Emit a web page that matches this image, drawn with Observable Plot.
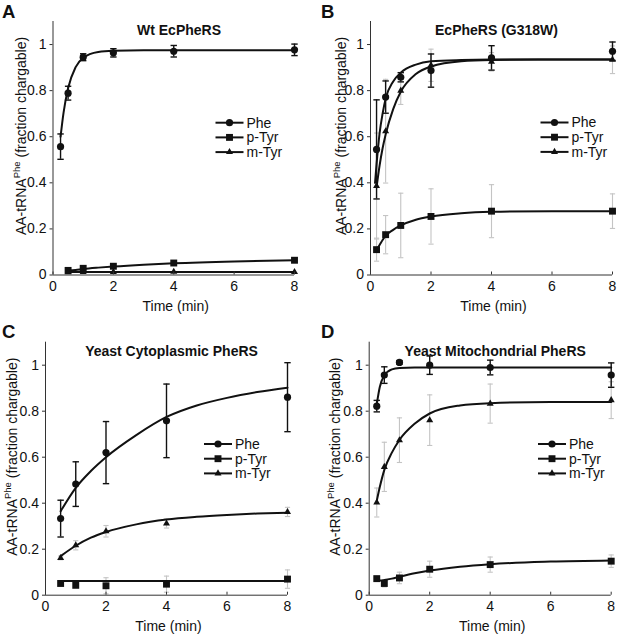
<!DOCTYPE html>
<html><head><meta charset="utf-8">
<script src="https://cdn.jsdelivr.net/npm/d3@7"></script>
<script src="https://cdn.jsdelivr.net/npm/@observablehq/plot@0.6"></script>
<style>
body{margin:0;background:#fff;}
#wrap{position:relative;width:617px;height:638px;font-family:"Liberation Sans",Arial,Helvetica,sans-serif;}
#wrap svg{position:absolute;overflow:visible;}
</style></head><body><div id="wrap"></div>
<script>
// ---------- data ----------
const seriesNames = ["Phe", "p-Tyr", "m-Tyr"];
const panelLetters = ["A", "B", "C", "D"];
const panelTitles = ["Wt EcPheRS", "EcPheRS (G318W)", "Yeast Cytoplasmic PheRS", "Yeast Mitochondrial PheRS"];
const xTicks = [0, 2, 4, 6, 8];
const yTicks = [0, 0.2, 0.4, 0.6, 0.8, 1];
const xLabel = "Time (min)";

// Panel A  (Wt EcPheRS)
const aTime = [0.25, 0.5, 1, 2, 4, 8];
const aPhe = [0.557, 0.789, 0.945, 0.964, 0.971, 0.977];
const aPheErr = [0.055, 0.03, 0.015, 0.018, 0.025, 0.025];
const aPTyr = [null, 0.020, 0.029, 0.038, 0.052, 0.064];
const aPTyrErr = [null, null, null, null, null, null];
const aMTyr = [null, 0.012, 0.013, 0.013, 0.014, 0.013];
const aMTyrErr = [null, null, null, null, null, null];
const aFitTime = [0.25, 0.35, 0.5, 0.75, 1, 1.5, 2, 3, 4, 6, 8];
const aPheFit = [0.60, 0.705, 0.81, 0.902, 0.943, 0.968, 0.973, 0.975, 0.975, 0.975, 0.975];
const aPTyrFit = [null, null, 0.019, 0.022, 0.026, 0.032, 0.037, 0.045, 0.051, 0.059, 0.064];
const aMTyrFit = [null, null, 0.013, 0.013, 0.013, 0.013, 0.013, 0.013, 0.013, 0.013, 0.013];

// Panel B  (EcPheRS G318W)
const bTime = [0.2, 0.5, 1, 2, 4, 8];
const bPhe = [0.545, 0.772, 0.858, 0.887, 0.942, 0.971];
const bPheErr = [0.215, 0.07, 0.02, 0.072, 0.053, 0.04];
const bPTyr = [0.110, 0.175, 0.215, 0.254, 0.277, 0.277];
const bPTyrErr = [0.05, 0.083, 0.14, 0.12, 0.115, 0.075];
const bMTyr = [0.386, 0.624, 0.80, 0.91, 0.925, 0.934];
const bMTyrErr = [0.23, 0.225, 0.06, 0.07, 0.04, 0.06];
const bFitTime = [0.15, 0.2, 0.3, 0.4, 0.5, 0.75, 1, 1.5, 2, 3, 4, 6, 8];
const bPheFit = [0.40, 0.48, 0.615, 0.70, 0.765, 0.84, 0.878, 0.913, 0.927, 0.933, 0.935, 0.935, 0.935];
const bPTyrFit = [null, 0.11, 0.13, 0.152, 0.17, 0.196, 0.215, 0.24, 0.254, 0.268, 0.274, 0.277, 0.277];
const bMTyrFit = [null, 0.38, 0.475, 0.55, 0.61, 0.72, 0.795, 0.872, 0.905, 0.928, 0.933, 0.935, 0.935];

// Panel C  (Yeast cytoplasmic PheRS)
const cTime = [0.5, 1, 2, 4, 8];
const cPhe = [0.333, 0.483, 0.620, 0.758, 0.861];
const cPheErr = [0.08, 0.097, 0.135, 0.16, 0.15];
const cPTyr = [0.051, 0.043, 0.041, 0.048, 0.070];
const cPTyrErr = [0.008, 0.008, 0.035, 0.035, 0.04];
const cMTyr = [0.162, 0.217, 0.278, 0.312, 0.362];
const cMTyrErr = [0.008, 0.02, 0.025, 0.02, 0.02];
const cFitTime = [0.5, 1, 1.5, 2, 3, 4, 5, 6, 7, 8];
const cPheFit = [0.365, 0.467, 0.54, 0.60, 0.696, 0.775, 0.825, 0.858, 0.883, 0.902];
const cPTyrFit = [0.062, 0.062, 0.062, 0.062, 0.062, 0.062, 0.062, 0.062, 0.062, 0.062];
const cMTyrFit = [0.17, 0.215, 0.25, 0.275, 0.308, 0.329, 0.341, 0.349, 0.355, 0.359];

// Panel D  (Yeast mitochondrial PheRS)
const dTime = [0.25, 0.5, 1, 2, 4, 8];
const dPhe = [0.822, 0.957, 1.012, 1.0, 0.99, 0.957];
const dPheErr = [0.025, 0.036, 0.008, 0.04, 0.032, 0.053];
const dPTyr = [0.072, 0.051, 0.075, 0.113, 0.133, 0.148];
const dPTyrErr = [0.01, 0.015, 0.025, 0.035, 0.033, 0.027];
const dMTyr = [0.403, 0.558, 0.674, 0.761, 0.833, 0.848];
const dMTyrErr = [0.063, 0.107, 0.097, 0.11, 0.085, 0.08];
const dFitTime = [0.25, 0.35, 0.5, 0.75, 1, 1.5, 2, 3, 4, 6, 8];
const dPheFit = [0.83, 0.905, 0.955, 0.982, 0.988, 0.99, 0.99, 0.99, 0.99, 0.99, 0.99];
const dPTyrFit = [0.068, 0.064, 0.066, 0.072, 0.08, 0.095, 0.107, 0.124, 0.135, 0.146, 0.151];
const dMTyrFit = [0.41, 0.47, 0.545, 0.62, 0.675, 0.745, 0.79, 0.825, 0.835, 0.84, 0.84];

// ---------- layout / style (not data) ----------
const layouts = [
  {left: 0,   top: 0,   width: 308, height: 318, mL: 52.5, mR: 14,  mT: 21,   mB: 43.5, legX: 163,   legY: 101.7, ylx: -26.5, lx: 2,  ly: 18, greyOthers: false},
  {left: 308, top: 0,   width: 309, height: 318, mL: 62,   mR: 5,   mT: 21,   mB: 43.5, legX: 170.5, legY: 101.5, ylx: -24.5, lx: 13, ly: 18, greyOthers: true},
  {left: 0,   top: 318, width: 308, height: 320, mL: 45,   mR: 21,  mT: 23.7, mB: 43.3, legX: 159,   legY: 102.3, ylx: -28,   lx: 2,  ly: 20, greyOthers: true},
  {left: 308, top: 318, width: 309, height: 320, mL: 60.7, mR: 6.3, mT: 23.7, mB: 43.3, legX: 169.3, legY: 102.3, ylx: -28.7, lx: 13, ly: 20, greyOthers: true}
];
const INK = "#111";
const GREY = "#c4c4c4";
const FONT = "'Liberation Sans', Arial, sans-serif";
const symbols = ["circle", "square", "triangle"];
const symR = [3.6, 3.9, 2.6];
const capSymbol = {draw(ctx, size) { const r = Math.sqrt(size / Math.PI); ctx.moveTo(-r, 0); ctx.lineTo(r, 0); }};

const panelsData = [
  {time: aTime, vals: [aPhe, aPTyr, aMTyr], errs: [aPheErr, aPTyrErr, aMTyrErr], fitTime: aFitTime, fits: [aPheFit, aPTyrFit, aMTyrFit]},
  {time: bTime, vals: [bPhe, bPTyr, bMTyr], errs: [bPheErr, bPTyrErr, bMTyrErr], fitTime: bFitTime, fits: [bPheFit, bPTyrFit, bMTyrFit]},
  {time: cTime, vals: [cPhe, cPTyr, cMTyr], errs: [cPheErr, cPTyrErr, cMTyrErr], fitTime: cFitTime, fits: [cPheFit, cPTyrFit, cMTyrFit]},
  {time: dTime, vals: [dPhe, dPTyr, dMTyr], errs: [dPheErr, dPTyrErr, dMTyrErr], fitTime: dFitTime, fits: [dPheFit, dPTyrFit, dMTyrFit]}
];

const wrap = document.getElementById("wrap");
const fmt = d3.format("~g");

panelsData.forEach((P, pi) => {
  const L = layouts[pi];
  const pts = [];
  P.vals.forEach((arr, si) => P.time.forEach((t, i) => {
    if (arr[i] != null) pts.push({t, v: arr[i], e: P.errs[si][i], s: seriesNames[si], si,
      grey: L.greyOthers && si > 0});
  }));
  const fit = [];
  P.fits.forEach((arr, si) => P.fitTime.forEach((t, i) => fit.push({t, v: arr[i], s: seriesNames[si]})));
  const errPts = pts.filter(d => d.e != null);
  const greyErr = errPts.filter(d => d.grey);
  const blackErr = errPts.filter(d => !d.grey);

  const marks = [
    Plot.ruleX(greyErr, {x: "t", y1: d => d.v - d.e, y2: d => d.v + d.e, stroke: GREY, strokeWidth: 1.1}),
    Plot.dot(greyErr, {x: "t", y: d => d.v + d.e, symbol: capSymbol, r: 2.6, stroke: GREY, strokeWidth: 1.1, fill: "none"}),
    Plot.dot(greyErr, {x: "t", y: d => d.v - d.e, symbol: capSymbol, r: 2.6, stroke: GREY, strokeWidth: 1.1, fill: "none"}),
    Plot.ruleX([0], {stroke: "#333", strokeWidth: 1}),
    Plot.ruleY([0], {stroke: "#333", strokeWidth: 1}),
    Plot.line(fit, {x: "t", y: "v", z: "s", curve: "monotone-x", stroke: INK, strokeWidth: 2}),
    Plot.ruleX(blackErr, {x: "t", y1: d => d.v - d.e, y2: d => d.v + d.e, stroke: INK, strokeWidth: 1.4}),
    Plot.dot(blackErr, {x: "t", y: d => d.v + d.e, symbol: capSymbol, r: 3.2, stroke: INK, strokeWidth: 1.4, fill: "none"}),
    Plot.dot(blackErr, {x: "t", y: d => d.v - d.e, symbol: capSymbol, r: 3.2, stroke: INK, strokeWidth: 1.4, fill: "none"}),
    ...[0, 1, 2].map(si => Plot.dot(pts.filter(d => d.si === si), {x: "t", y: "v", symbol: symbols[si], r: symR[si], fill: INK, stroke: "none"})),
    Plot.axisX({ticks: xTicks, tickSize: -3, tickPadding: 9, tickFormat: fmt, label: null, stroke: "#333", fontSize: 14}),
    Plot.axisY({ticks: yTicks, tickSize: 3, tickPadding: 3.5, tickFormat: fmt, label: null, stroke: "#333", fontSize: 14}),
    Plot.text([panelTitles[pi]], {frameAnchor: "top-left", dx: 126, dy: 13.5, text: d => d, textAnchor: "middle",
      lineAnchor: "bottom", fontWeight: "bold", fontSize: 14, fill: INK})
  ];

  const svg = Plot.plot({
    width: L.width, height: L.height,
    marginLeft: L.mL, marginRight: L.mR, marginTop: L.mT, marginBottom: L.mB,
    x: {domain: [0, 8]},
    y: {domain: [0, 1.1]},
    style: {fontFamily: FONT, fontSize: "14px", color: INK, background: "transparent", overflow: "visible"},
    marks
  });
  svg.style.left = L.left + "px";
  svg.style.top = L.top + "px";
  wrap.appendChild(svg);

  const s = d3.select(svg);
  const fL = L.mL, fT = L.mT, fB = L.height - L.mB, fW = L.width - L.mL - L.mR;
  s.append("text").attr("x", L.lx).attr("y", L.ly).attr("text-anchor", "start").attr("font-size", 18.5).attr("font-weight", "bold")
    .attr("fill", INK).attr("font-family", FONT).text(panelLetters[pi]);
  s.append("text").attr("x", fL + fW / 2 + 2.5).attr("y", fB + 36.6).attr("text-anchor", "middle")
    .attr("font-size", 14).attr("fill", INK).attr("font-family", FONT).text(xLabel);
  const yl = s.append("text").attr("transform", `translate(${fL + L.ylx},${fT + 115}) rotate(-90)`)
    .attr("text-anchor", "middle").attr("font-size", 14).attr("fill", INK).attr("font-family", FONT);
  yl.append("tspan").text("AA-tRNA");
  yl.append("tspan").attr("font-size", 9.5).attr("dy", -6).text("Phe");
  yl.append("tspan").attr("dy", 6).text(" (fraction chargable)");
  const lg = s.append("g").attr("transform", `translate(${fL + L.legX},${fT + L.legY})`);
  seriesNames.forEach((name, si) => {
    const row = lg.append("g").attr("transform", `translate(0,${si * 14.7})`);
    row.append("line").attr("x1", 0).attr("x2", 28).attr("y1", 0).attr("y2", 0).attr("stroke", INK).attr("stroke-width", 2);
    const sym = [d3.symbolCircle, d3.symbolSquare, d3.symbolTriangle][si];
    row.append("path").attr("transform", "translate(14,0)").attr("d", d3.symbol(sym, Math.PI * symR[si] * symR[si])()).attr("fill", INK);
    row.append("text").attr("x", 31).attr("y", 0).attr("dy", "0.35em").attr("text-anchor", "start").attr("font-size", 14).attr("fill", INK)
      .attr("font-family", FONT).text(name);
  });
});
</script></body></html>
